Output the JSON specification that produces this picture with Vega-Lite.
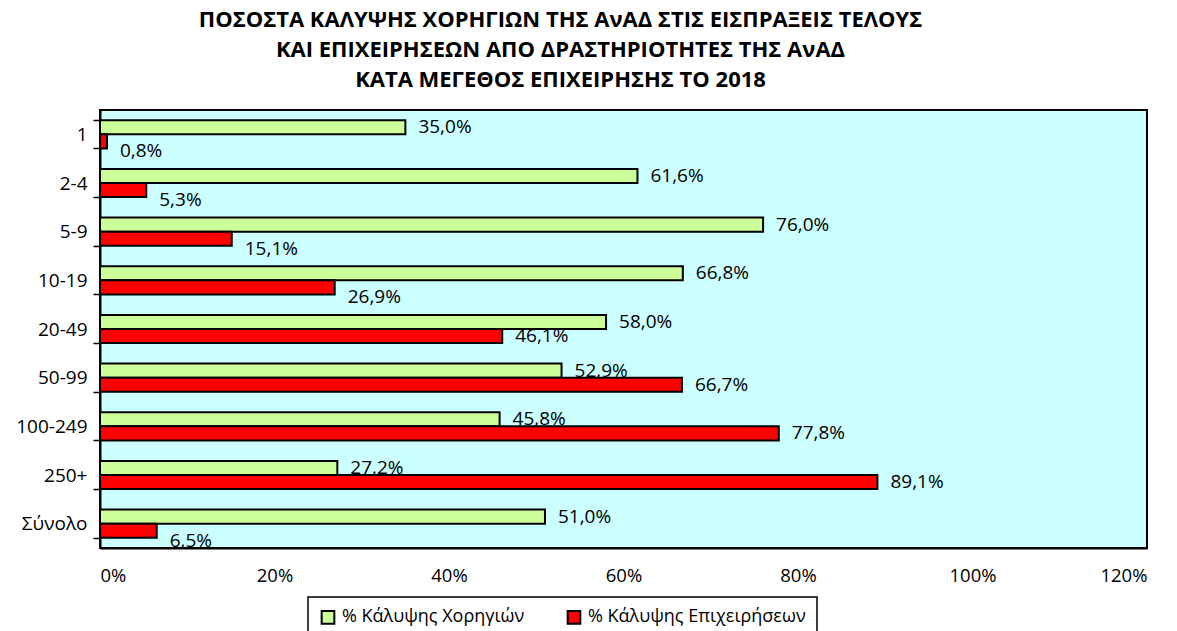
{
  "$schema": "https://vega.github.io/schema/vega-lite/v6.json",
  "autosize": {"type": "none"},
  "width": 1047,
  "height": 438,
  "padding": {"left": 100, "top": 110, "right": 30, "bottom": 83},
  "background": "white",
  "config": {
    "locale": {"number": {"decimal": ",", "thousands": ".", "grouping": [3], "currency": ["", " €"]}},
    "font": "Open Sans",
    "view": {"fill": "#CCFFFF", "stroke": "black", "strokeWidth": 2}
  },
  "title": {
    "text": ["ΠΟΣΟΣΤΑ ΚΑΛΥΨΗΣ ΧΟΡΗΓΙΩΝ ΤΗΣ ΑνΑΔ ΣΤΙΣ ΕΙΣΠΡΑΞΕΙΣ ΤΕΛΟΥΣ", "ΚΑΙ ΕΠΙΧΕΙΡΗΣΕΩΝ ΑΠΟ ΔΡΑΣΤΗΡΙΟΤΗΤΕΣ ΤΗΣ ΑνΑΔ", "ΚΑΤΑ ΜΕΓΕΘΟΣ ΕΠΙΧΕΙΡΗΣΗΣ ΤΟ 2018"],
    "anchor": "middle",
    "frame": "group",
    "dx": -63,
    "offset": 9,
    "fontSize": 22,
    "fontWeight": "bold",
    "lineHeight": 30,
    "font": "Open Sans",
    "color": "black"
  },
  "data": {
    "values": [
      {"cat": "1", "series": "% Κάλυψης Χορηγιών", "value": 0.350},
      {"cat": "1", "series": "% Κάλυψης Επιχειρήσεων", "value": 0.008},
      {"cat": "2-4", "series": "% Κάλυψης Χορηγιών", "value": 0.616},
      {"cat": "2-4", "series": "% Κάλυψης Επιχειρήσεων", "value": 0.053},
      {"cat": "5-9", "series": "% Κάλυψης Χορηγιών", "value": 0.760},
      {"cat": "5-9", "series": "% Κάλυψης Επιχειρήσεων", "value": 0.151},
      {"cat": "10-19", "series": "% Κάλυψης Χορηγιών", "value": 0.668},
      {"cat": "10-19", "series": "% Κάλυψης Επιχειρήσεων", "value": 0.269},
      {"cat": "20-49", "series": "% Κάλυψης Χορηγιών", "value": 0.580},
      {"cat": "20-49", "series": "% Κάλυψης Επιχειρήσεων", "value": 0.461},
      {"cat": "50-99", "series": "% Κάλυψης Χορηγιών", "value": 0.529},
      {"cat": "50-99", "series": "% Κάλυψης Επιχειρήσεων", "value": 0.667},
      {"cat": "100-249", "series": "% Κάλυψης Χορηγιών", "value": 0.458},
      {"cat": "100-249", "series": "% Κάλυψης Επιχειρήσεων", "value": 0.778},
      {"cat": "250+", "series": "% Κάλυψης Χορηγιών", "value": 0.272},
      {"cat": "250+", "series": "% Κάλυψης Επιχειρήσεων", "value": 0.891},
      {"cat": "Σύνολο", "series": "% Κάλυψης Χορηγιών", "value": 0.510},
      {"cat": "Σύνολο", "series": "% Κάλυψης Επιχειρήσεων", "value": 0.065}
    ]
  },
  "encoding": {
    "y": {
      "field": "cat", "type": "nominal",
      "sort": ["1", "2-4", "5-9", "10-19", "20-49", "50-99", "100-249", "250+", "Σύνολο"],
      "scale": {"paddingInner": 0.42, "paddingOuter": 0.21},
      "axis": {
        "title": null, "tickBand": "extent", "tickSize": 7, "tickColor": "black", "tickWidth": 1.5,
        "domainColor": "black", "domainWidth": 2, "labelFontSize": 19, "labelColor": "black",
        "labelPadding": 6, "labelFont": "Open Sans"
      }
    },
    "yOffset": {
      "field": "series", "type": "nominal",
      "scale": {"domain": ["% Κάλυψης Χορηγιών", "% Κάλυψης Επιχειρήσεων"], "paddingInner": 0, "paddingOuter": 0}
    },
    "x": {
      "field": "value", "type": "quantitative",
      "scale": {"domain": [0, 1.2], "nice": false},
      "axis": {
        "title": null, "format": ".0%", "values": [0, 0.2, 0.4, 0.6, 0.8, 1.0, 1.2],
        "grid": false, "ticks": false, "domainColor": "black", "domainWidth": 2,
        "labelFontSize": 18.5, "labelColor": "black", "labelPadding": 18, "labelFont": "Open Sans"
      }
    }
  },
  "layer": [
    {
      "mark": {"type": "bar", "stroke": "black", "strokeWidth": 2},
      "encoding": {
        "color": {
          "field": "series", "type": "nominal",
          "scale": {"domain": ["% Κάλυψης Χορηγιών", "% Κάλυψης Επιχειρήσεων"], "range": ["#CCFF99", "#FF0000"]},
          "legend": {
            "orient": "none", "legendX": 208, "legendY": 487, "direction": "horizontal",
            "title": null, "strokeColor": "black", "fillColor": "white",
            "padding": 11, "symbolType": "square", "symbolSize": 160,
            "symbolStrokeColor": "black", "symbolStrokeWidth": 2, "labelFontSize": 18,
            "labelColor": "black", "labelFont": "Open Sans", "columnPadding": 38, "labelOffset": 5,
            "labelLimit": 400,
            "encode": {"legend": {"update": {"strokeWidth": {"value": 1.5}}}}
          }
        }
      }
    },
    {
      "transform": [{"filter": "datum.series == '% Κάλυψης Χορηγιών' || datum.value >= 0.4"}],
      "mark": {"type": "text", "align": "left", "baseline": "middle", "dx": 13, "fontSize": 19, "color": "black", "font": "Open Sans"},
      "encoding": {"text": {"field": "value", "type": "quantitative", "format": ".1%"}}
    },
    {
      "transform": [{"filter": "datum.series == '% Κάλυψης Επιχειρήσεων' && datum.value < 0.4"}],
      "mark": {"type": "text", "align": "left", "baseline": "middle", "dx": 13, "dy": 10, "fontSize": 19, "color": "black", "font": "Open Sans"},
      "encoding": {"text": {"field": "value", "type": "quantitative", "format": ".1%"}}
    }
  ]
}
